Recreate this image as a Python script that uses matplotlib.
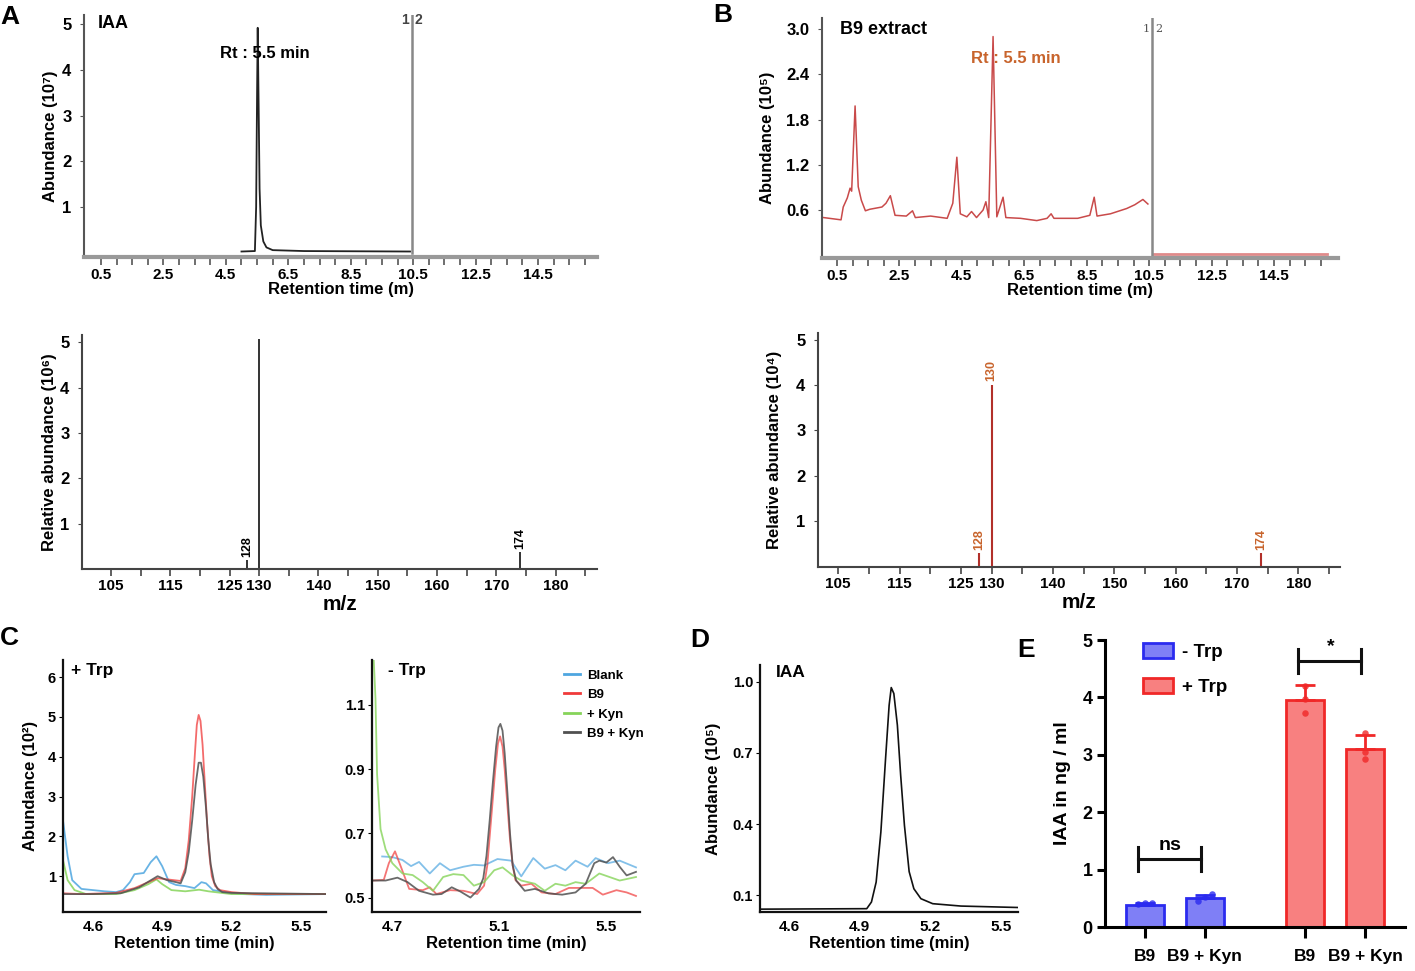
import numpy as np
import matplotlib
matplotlib.use('Agg')
import matplotlib.pyplot as plt
from matplotlib.patches import Patch

plt.rcParams['font.family'] = ['Liberation Sans', 'DejaVu Sans']
plt.rcParams['font.weight'] = 'bold'
plt.rcParams['axes.labelweight'] = 'bold'

W, H = 1415, 971

# ---------------- data ----------------
# A top: IAA standard chromatogram (abundance x1e7)
iaa_t = [5.0, 5.43, 5.47, 5.5, 5.52, 5.55, 5.58, 5.62, 5.7, 5.8, 6.0, 7.0, 10.4]
iaa_ab = [0.03, 0.04, 1.0, 3.5, 4.92, 3.2, 1.4, 0.6, 0.25, 0.12, 0.06, 0.04, 0.03]
seg_A = 10.45

# B top: B9 extract chromatogram (abundance x1e5)
b9_t = [0.07, 0.63, 0.7, 0.83, 0.92, 0.97, 1.08, 1.18, 1.28, 1.41, 1.55, 1.94, 2.07,
        2.21, 2.36, 2.72, 2.92, 3.01, 3.5, 4.03, 4.21, 4.34, 4.45, 4.66, 4.81, 4.97,
        5.18, 5.27, 5.36, 5.5, 5.62, 5.82, 5.91, 6.38, 6.9, 7.23, 7.36, 7.45, 8.21,
        8.6, 8.74, 8.83, 9.26, 9.78, 10.04, 10.3, 10.46]
b9_ab = [0.5, 0.47, 0.64, 0.76, 0.89, 0.85, 1.98, 0.91, 0.73, 0.59, 0.61, 0.64, 0.69,
         0.79, 0.53, 0.52, 0.59, 0.5, 0.52, 0.49, 0.69, 1.3, 0.55, 0.51, 0.58, 0.5,
         0.6, 0.71, 0.5, 2.9, 0.51, 0.77, 0.5, 0.49, 0.46, 0.49, 0.55, 0.49, 0.49,
         0.53, 0.77, 0.52, 0.55, 0.62, 0.67, 0.74, 0.68]
b9_tail_t = [10.65, 16.2]
b9_tail_ab = [0.02, 0.02]
seg_B = 10.6

rt_ticks = [0.5, 2.5, 4.5, 6.5, 8.5, 10.5, 12.5, 14.5]
rt_labels = ['0.5', '2.5', '4.5', '6.5', '8.5', '10.5', '12.5', '14.5']

# mass spectra
ms_A_mz = [128, 130, 174]
ms_A_ab = [0.19, 5.07, 0.37]          # x1e6
ms_A_lab = ['128', '', '174']
ms_B_mz = [128, 130, 174]
ms_B_ab = [0.28, 4.0, 0.28]           # x1e4
ms_B_lab = ['128', '130', '174']
mz_ticks = [105, 115, 125, 130, 140, 150, 160, 170, 180]

# C left: + Trp
cl_blank_t = [4.47, 4.49, 4.51, 4.55, 4.6, 4.65, 4.7, 4.73, 4.76, 4.78, 4.82, 4.85, 4.875,
              4.9, 4.93, 4.96, 5.0, 5.04, 5.07, 5.09, 5.12, 5.17, 5.25, 5.35, 5.61]
cl_blank_v = [2.4, 1.5, 0.9, 0.68, 0.65, 0.62, 0.6, 0.65, 0.85, 1.05, 1.08, 1.35, 1.5,
              1.25, 0.85, 0.78, 0.75, 0.7, 0.85, 0.82, 0.65, 0.6, 0.55, 0.53, 0.55]
cl_b9_t = [4.47, 4.55, 4.7, 4.78, 4.84, 4.88, 4.95, 4.98, 5.0, 5.015, 5.03, 5.042, 5.05,
           5.058, 5.066, 5.075, 5.085, 5.095, 5.105, 5.115, 5.13, 5.15, 5.2, 5.3, 5.61]
cl_b9_v = [0.57, 0.55, 0.58, 0.7, 0.85, 0.95, 0.9, 0.88, 1.2, 1.9, 3.0, 4.1, 4.8,
           5.05, 4.9, 4.3, 3.3, 2.3, 1.5, 1.0, 0.75, 0.65, 0.6, 0.55, 0.55]
cl_kyn_t = [4.47, 4.49, 4.52, 4.57, 4.7, 4.78, 4.84, 4.875, 4.9, 4.94, 5.0, 5.06, 5.1, 5.2, 5.61]
cl_kyn_v = [1.4, 0.9, 0.65, 0.55, 0.55, 0.65, 0.8, 0.92, 0.8, 0.65, 0.62, 0.66, 0.62, 0.55, 0.55]
cl_b9kyn_t = [4.47, 4.6, 4.72, 4.8, 4.88, 4.92, 4.96, 4.98, 5.0, 5.015, 5.03, 5.045,
              5.058, 5.068, 5.078, 5.09, 5.1, 5.11, 5.125, 5.14, 5.16, 5.2, 5.61]
cl_b9kyn_v = [0.55, 0.55, 0.57, 0.72, 1.0, 0.9, 0.85, 0.82, 1.1, 1.6, 2.4, 3.3,
              3.85, 3.85, 3.5, 2.7, 1.9, 1.3, 0.85, 0.68, 0.6, 0.58, 0.55]

# C right: - Trp
cr_blank_t = [4.662, 4.7, 4.738, 4.77, 4.8, 4.84, 4.878, 4.916, 4.966, 5.005, 5.043, 5.093,
              5.144, 5.182, 5.227, 5.27, 5.31, 5.347, 5.385, 5.43, 5.46, 5.506, 5.55, 5.611]
cr_blank_v = [0.628, 0.626, 0.617, 0.598, 0.611, 0.575, 0.607, 0.585, 0.596, 0.602, 0.6, 0.62,
              0.615, 0.566, 0.623, 0.59, 0.601, 0.585, 0.615, 0.596, 0.623, 0.607, 0.615, 0.594]
cr_b9_t = [4.624, 4.668, 4.687, 4.71, 4.732, 4.763, 4.814, 4.84, 4.865, 4.916, 4.966, 5.017,
           5.043, 5.055, 5.065, 5.075, 5.085, 5.095, 5.103, 5.112, 5.12, 5.13, 5.14, 5.15,
           5.16, 5.182, 5.22, 5.258, 5.31, 5.36, 5.41, 5.449, 5.487, 5.538, 5.576, 5.611]
cr_b9_v = [0.553, 0.555, 0.607, 0.644, 0.596, 0.527, 0.523, 0.532, 0.511, 0.523, 0.521, 0.511,
           0.537, 0.6, 0.7, 0.8, 0.9, 0.98, 1.002, 0.97, 0.9, 0.79, 0.68, 0.6,
           0.555, 0.537, 0.543, 0.516, 0.511, 0.53, 0.53, 0.53, 0.509, 0.523, 0.516, 0.505]
cr_kyn_t = [4.63, 4.637, 4.643, 4.656, 4.675, 4.7, 4.738, 4.776, 4.814, 4.852, 4.89, 4.928,
            4.966, 5.005, 5.043, 5.081, 5.112, 5.15, 5.182, 5.233, 5.27, 5.31, 5.347, 5.385,
            5.423, 5.474, 5.512, 5.55, 5.611]
cr_kyn_v = [1.25, 1.12, 0.884, 0.713, 0.65, 0.607, 0.575, 0.57, 0.548, 0.521, 0.564, 0.573,
            0.57, 0.537, 0.548, 0.585, 0.594, 0.569, 0.553, 0.543, 0.521, 0.543, 0.537, 0.548,
            0.543, 0.575, 0.564, 0.553, 0.564]
cr_b9kyn_t = [4.624, 4.675, 4.719, 4.757, 4.8, 4.852, 4.884, 4.922, 4.954, 4.992, 5.024, 5.04,
              5.052, 5.064, 5.076, 5.088, 5.097, 5.104, 5.112, 5.12, 5.13, 5.14, 5.15, 5.163,
              5.195, 5.233, 5.284, 5.335, 5.385, 5.423, 5.455, 5.474, 5.5, 5.525, 5.55, 5.576, 5.611]
cr_b9kyn_v = [0.553, 0.553, 0.562, 0.548, 0.521, 0.509, 0.511, 0.532, 0.519, 0.5, 0.527, 0.56,
              0.63, 0.74, 0.86, 0.97, 1.03, 1.041, 1.02, 0.95, 0.83, 0.7, 0.6, 0.553,
              0.521, 0.527, 0.513, 0.509, 0.516, 0.543, 0.607, 0.615, 0.609, 0.626, 0.596, 0.569, 0.58]

# D: IAA standard
d_t = [4.48, 4.93, 4.95, 4.97, 4.99, 5.01, 5.025, 5.034, 5.045, 5.06, 5.074, 5.09,
       5.11, 5.13, 5.16, 5.21, 5.33, 5.57]
d_v = [0.042, 0.044, 0.072, 0.156, 0.367, 0.677, 0.9, 0.975, 0.95, 0.817, 0.606, 0.395,
       0.2, 0.128, 0.086, 0.065, 0.055, 0.049]

# E: IAA quantification
e_groups = ['B9', 'B9 + Kyn', 'B9', 'B9 + Kyn']
e_pos = [0, 1, 2.68, 3.68]
e_mean = [0.39, 0.5, 3.95, 3.1]
e_sd = [0.03, 0.065, 0.26, 0.25]
e_cond = ['- Trp', '- Trp', '+ Trp', '+ Trp']
e_dots = [[0.4, 0.41, 0.42], [0.45, 0.53, 0.57], [3.72, 3.97, 4.2], [2.93, 3.05, 3.38]]
e_sig = [(0, 1, 1.18, 'ns'), (2.68, 3.68, 4.64, '*')]

c_blank, c_b9, c_kyn, c_b9kyn = '#4ea6e0', '#f03a3a', '#86d45a', '#505050'
orange = '#c8642c'

fig = plt.figure(figsize=(W / 100, H / 100), dpi=100)


def px_axes(l, t, r, b):
    return fig.add_axes([l / W, 1 - b / H, (r - l) / W, (b - t) / H])


def ftext(x, y, s, **kw):
    fig.text(x / W, 1 - y / H, s, **kw)


def clean(ax, col='#555555', lw=1.5):
    for s in ['top', 'right']:
        ax.spines[s].set_visible(False)
    for s in ['left', 'bottom']:
        ax.spines[s].set_color(col)
        ax.spines[s].set_linewidth(lw)


# ---------- A top ----------
ax = px_axes(84, 15, 597, 257)
ax.plot(iaa_t, iaa_ab, color='#222222', lw=1.3)
ax.plot([seg_A, seg_A], [0, 5.2], color='#888888', lw=1.8)
ax.set_xlim(-0.045, 16.39)
ax.set_ylim(-0.09, 5.2)
clean(ax)
ax.spines['bottom'].set_color('#999999')
ax.spines['bottom'].set_linewidth(3)
ax.set_xticks(rt_ticks, rt_labels, fontsize=11)
ax.set_xticks(np.arange(0.5, 16.4, 0.5), minor=True)
ax.set_yticks([1, 2, 3, 4, 5], ['1', '2', '3', '4', '5'], fontsize=12)
ax.tick_params(axis='x', which='both', length=6, width=1.2, color='#555555', pad=2)
ax.tick_params(axis='y', length=3, color='#555555', pad=6)
ax.set_xlabel('Retention time (m)', fontsize=12, labelpad=0)
ax.set_ylabel('Abundance (10⁷)', fontsize=12, labelpad=3)
ax.text(0.027, 0.965, 'IAA', transform=ax.transAxes, fontsize=13, va='center')
ax.text(4.32, 4.35, 'Rt : 5.5 min', fontsize=12, va='center')
ax.text(seg_A - 0.1, 5.08, '1', fontsize=10, ha='right', va='center', color='#444444')
ax.text(seg_A + 0.1, 5.08, '2', fontsize=10, ha='left', va='center', color='#444444')

# ---------- B top ----------
ax = px_axes(822, 18, 1338, 258)
ax.plot(b9_t, b9_ab, color='#c94a4a', lw=1.1)
ax.plot(b9_tail_t, b9_tail_ab, color='#e08a8a', lw=2)
ax.plot([seg_B, seg_B], [0, 3.146], color='#888888', lw=1.8)
ax.set_xlim(0.02, 16.55)
ax.set_ylim(-0.036, 3.146)
clean(ax)
ax.spines['bottom'].set_color('#999999')
ax.spines['bottom'].set_linewidth(3)
ax.set_xticks(rt_ticks, rt_labels, fontsize=11)
ax.set_xticks(np.arange(0.5, 16.5, 0.5), minor=True)
ax.set_yticks([0.6, 1.2, 1.8, 2.4, 3.0], ['0.6', '1.2', '1.8', '2.4', '3.0'], fontsize=12)
ax.tick_params(axis='x', which='both', length=6, width=1.2, color='#555555', pad=2)
ax.tick_params(axis='y', length=3, color='#555555', pad=6)
ax.set_xlabel('Retention time (m)', fontsize=12, labelpad=0)
ax.set_ylabel('Abundance (10⁵)', fontsize=12, labelpad=8)
ax.text(0.035, 0.95, 'B9 extract', transform=ax.transAxes, fontsize=13, va='center')
ax.text(4.8, 2.55, 'Rt : 5.5 min', fontsize=12, color=orange)
ax.text(seg_B - 0.08, 3.0, '1', fontsize=8, ha='right', va='center', color='#555555', family='DejaVu Serif', weight='normal')
ax.text(seg_B + 0.08, 3.0, '2', fontsize=8, ha='left', va='center', color='#555555', family='DejaVu Serif', weight='normal')

# ---------- A bottom (mass spectrum) ----------
ax = px_axes(82, 335, 597, 569)
ax.vlines(ms_A_mz, 0, ms_A_ab, color='#333333', lw=1.4)
for m, a, lab in zip(ms_A_mz, ms_A_ab, ms_A_lab):
    ax.text(m, a + 0.08, lab, rotation=90, ha='center', va='bottom', fontsize=9)
ax.set_xlim(100.1, 187)
ax.set_ylim(0, 5.16)
clean(ax, '#444444', 1.5)
ax.set_xticks(mz_ticks, [str(v) for v in mz_ticks], fontsize=11)
ax.set_xticks(np.arange(105, 186, 5), minor=True)
ax.set_yticks([1, 2, 3, 4, 5], ['1', '2', '3', '4', '5'], fontsize=12)
ax.tick_params(axis='x', which='both', length=5, width=1.2, color='#444444', pad=2)
ax.tick_params(axis='y', length=3, color='#444444', pad=6)
ax.set_xlabel('m/z', fontsize=15, labelpad=2)
ax.set_ylabel('Relative abundance (10⁶)', fontsize=12, labelpad=2)

# ---------- B bottom (mass spectrum) ----------
ax = px_axes(818, 333, 1340, 567)
ax.vlines(ms_B_mz, 0, ms_B_ab, color='#b2302a', lw=1.5)
for m, a, lab in zip(ms_B_mz, ms_B_ab, ms_B_lab):
    ax.text(m, a + 0.08, lab, rotation=90, ha='center', va='bottom', fontsize=9, color=orange)
ax.set_xlim(101.7, 186.8)
ax.set_ylim(-0.02, 5.15)
clean(ax, '#444444', 1.5)
ax.set_xticks(mz_ticks, [str(v) for v in mz_ticks], fontsize=11)
ax.set_xticks(np.arange(105, 186, 5), minor=True)
ax.set_yticks([1, 2, 3, 4, 5], ['1', '2', '3', '4', '5'], fontsize=12)
ax.tick_params(axis='x', which='both', length=5, width=1.2, color='#444444', pad=2)
ax.tick_params(axis='y', length=3, color='#444444', pad=6)
ax.set_xlabel('m/z', fontsize=15, labelpad=2)
ax.set_ylabel('Relative abundance (10⁴)', fontsize=12, labelpad=10)

# ---------- C left ----------
ax = px_axes(63, 660, 326, 912)
ax.plot(cl_blank_t, cl_blank_v, color=c_blank, lw=1.3, alpha=0.85)
ax.plot(cl_kyn_t, cl_kyn_v, color=c_kyn, lw=1.3, alpha=0.85)
ax.plot(cl_b9_t, cl_b9_v, color=c_b9, lw=1.3, alpha=0.75)
ax.plot(cl_b9kyn_t, cl_b9kyn_v, color=c_b9kyn, lw=1.3, alpha=0.85)
ax.set_xlim(4.47, 5.61)
ax.set_ylim(0.1, 6.43)
clean(ax, '#111111', 1.6)
ax.set_xticks([4.6, 4.9, 5.2, 5.5], ['4.6', '4.9', '5.2', '5.5'], fontsize=11)
ax.set_yticks([1, 2, 3, 4, 5, 6], ['1', '2', '3', '4', '5', '6'], fontsize=10.5)
ax.tick_params(axis='x', length=0, pad=6)
ax.tick_params(axis='y', length=3, pad=2)
ax.set_xlabel('Retention time (min)', fontsize=12, labelpad=1)
ax.set_ylabel('Abundance (10²)', fontsize=12, labelpad=7)
ax.text(0.03, 0.96, '+ Trp', transform=ax.transAxes, fontsize=12.5, va='center')

# ---------- C right ----------
ax = px_axes(372, 660, 640, 912)
ax.plot(cr_blank_t, cr_blank_v, color=c_blank, lw=1.3, alpha=0.7, label='Blank')
ax.plot(cr_b9_t, cr_b9_v, color=c_b9, lw=1.3, alpha=0.7, label='B9')
ax.plot(cr_kyn_t, cr_kyn_v, color=c_kyn, lw=1.3, alpha=0.8, label='+ Kyn')
ax.plot(cr_b9kyn_t, cr_b9kyn_v, color=c_b9kyn, lw=1.3, alpha=0.85, label='B9 + Kyn')
ax.set_xlim(4.624, 5.626)
ax.set_ylim(0.455, 1.24)
clean(ax, '#111111', 1.6)
ax.set_xticks([4.7, 5.1, 5.5], ['4.7', '5.1', '5.5'], fontsize=11)
ax.set_yticks([0.5, 0.7, 0.9, 1.1], ['0.5', '0.7', '0.9', '1.1'], fontsize=10.5)
ax.tick_params(axis='x', length=0, pad=6)
ax.tick_params(axis='y', length=3, pad=2)
ax.set_xlabel('Retention time (min)', fontsize=12, labelpad=1)
ax.text(0.06, 0.96, '- Trp', transform=ax.transAxes, fontsize=12.5, va='center')
leg = ax.legend(loc='upper right', bbox_to_anchor=(1.06, 1.01), frameon=False,
                fontsize=9.5, handlelength=1.2, handletextpad=0.6, labelspacing=0.55)
for h in leg.get_lines():
    h.set_linewidth(2)
    h.set_alpha(1)

# ---------- D ----------
ax = px_axes(760, 665, 1018, 912)
ax.plot(d_t, d_v, color='#111111', lw=1.2)
ax.set_xlim(4.477, 5.572)
ax.set_ylim(0.03, 1.07)
clean(ax, '#111111', 1.6)
ax.set_xticks([4.6, 4.9, 5.2, 5.5], ['4.6', '4.9', '5.2', '5.5'], fontsize=11)
ax.set_yticks([0.1, 0.4, 0.7, 1.0], ['0.1', '0.4', '0.7', '1.0'], fontsize=10.5)
ax.tick_params(axis='x', length=0, pad=6)
ax.tick_params(axis='y', length=3, pad=2)
ax.set_xlabel('Retention time (min)', fontsize=12, labelpad=1)
ax.set_ylabel('Abundance (10⁵)', fontsize=12, labelpad=8)
ax.text(0.06, 0.97, 'IAA', transform=ax.transAxes, fontsize=12.5, va='center')

# ---------- E ----------
ax = px_axes(1105, 640, 1405, 927)
cmap_face = {'- Trp': '#7f7ff6', '+ Trp': '#f88080'}
cmap_edge = {'- Trp': '#2b2bef', '+ Trp': '#f02828'}
for x, m, sd, cond, dots in zip(e_pos, e_mean, e_sd, e_cond, e_dots):
    ax.bar(x, m, width=0.64, color=cmap_face[cond], edgecolor=cmap_edge[cond], lw=2, zorder=2)
    ax.errorbar(x, m, yerr=[[0], [sd]], color=cmap_edge[cond], capsize=7, capthick=2,
                elinewidth=2, zorder=3)
    ax.scatter([x - 0.12, x, x + 0.12] if cond == '- Trp' else [x, x, x], dots,
               s=22, color=cmap_edge[cond], alpha=0.8, zorder=4, lw=0)
for x1, x2, y, lab in e_sig:
    ax.plot([x1 - 0.12, x2 - 0.06], [y, y], color='#111111', lw=2.2)
    ax.plot([x1 - 0.12, x1 - 0.12], [y - 0.21, y + 0.21], color='#111111', lw=2.2)
    ax.plot([x2 - 0.06, x2 - 0.06], [y - 0.21, y + 0.21], color='#111111', lw=2.2)
    ax.text((x1 + x2) / 2 - 0.08, y + 0.1, lab, ha='center', va='bottom', fontsize=14)
ax.set_xlim(-0.67, 4.35)
ax.set_ylim(0, 5)
for s in ['top', 'right']:
    ax.spines[s].set_visible(False)
ax.spines['left'].set_linewidth(2.2)
ax.spines['bottom'].set_linewidth(2.2)
ax.set_xticks(e_pos, e_groups, fontsize=12.5)
ax.set_yticks([0, 1, 2, 3, 4, 5], ['0', '1', '2', '3', '4', '5'], fontsize=13)
ax.tick_params(axis='x', length=8, width=2.2, pad=8)
ax.tick_params(axis='y', length=6, width=2.2, pad=3)
ax.set_ylabel('IAA in ng / ml', fontsize=14, labelpad=8)
handles = [Patch(facecolor=cmap_face[c], edgecolor=cmap_edge[c], lw=2) for c in ['- Trp', '+ Trp']]
ax.legend(handles, ['- Trp', '+ Trp'], loc='upper left', bbox_to_anchor=(0.07, 1.05),
          frameon=False, fontsize=13.5, handlelength=1.6, handleheight=0.9,
          labelspacing=0.9, handletextpad=0.5)

# ---------- panel letters ----------
for x, y, s in [(0, 17, 'A'), (713, 15, 'B'), (0, 638, 'C'), (690, 640, 'D'), (1017, 650, 'E')]:
    ftext(x, y, s, fontsize=19, va='center', ha='left')

fig.savefig('out.png', dpi=100)
